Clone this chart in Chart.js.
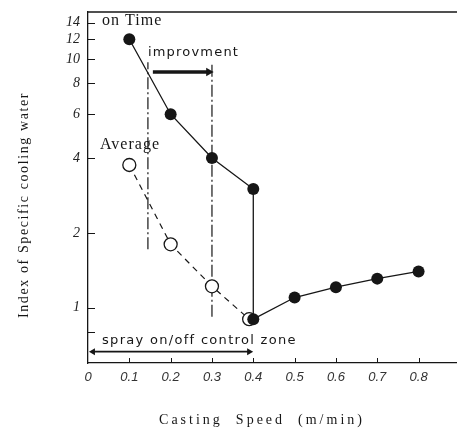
<!DOCTYPE html>
<html>
<head>
<meta charset="utf-8">
<script src="https://cdn.jsdelivr.net/npm/chart.js@4"></script>
<style>
    html, body { margin: 0; padding: 0; background: #fff; overflow: hidden; }
    #coolingChart { display: block; }
</style>
</head>
<body>
<canvas id="coolingChart" width="457" height="429"></canvas>
<script>
// data
const onTimeSpeed = [0.1, 0.2, 0.3, 0.4, 0.4, 0.5, 0.6, 0.7, 0.8];
const onTimeIndex = [12, 6, 4, 3.0, 0.9, 1.1, 1.21, 1.31, 1.4];
const averageSpeed = [0.1, 0.2, 0.3, 0.39];
const averageIndex = [3.75, 1.8, 1.22, 0.9];

// dash-dot guide lines (speed, low, high)
const guideSpeed = [0.145, 0.3];
const guideLow = [1.72, 0.92];
const guideHigh = [9.7, 9.7];

// improvement arrow and spray zone arrow
const improveSpeed = [0.157, 0.292];
const improveIndex = [8.87, 8.87];
const sprayZoneSpeed = [0.012, 0.39];
const sprayZoneIndex = [0.666, 0.666];

const xTickValues = [0, 0.1, 0.2, 0.3, 0.4, 0.5, 0.6, 0.7, 0.8];
const xTickLabels = ["0", "0.1", "0.2", "0.3", "0.4", "0.5", "0.6", "0.7", "0.8"];
const yTickValues = [0.8, 1, 2, 4, 6, 8, 10, 12, 14];
const yTickLabels = ["", "1", "2", "4", "6", "8", "10", "12", "14"];

const ink = "#161616";

function points(xs, ys) {
    return xs.map((x, i) => ({ x: x, y: ys[i] }));
}

// ✅ draws frame top, inward ticks, notes and axis titles
const decorPlugin = {
    id: "decor",
    afterDraw(chart) {
        const ctx = chart.ctx;
        const area = chart.chartArea;
        const xs = chart.scales.x;
        const ys = chart.scales.y;

        ctx.save();
        ctx.strokeStyle = ink;
        ctx.lineWidth = 1.3;
        ctx.beginPath();
        ctx.moveTo(area.left, area.top);
        ctx.lineTo(area.right, area.top);
        ctx.stroke();

        ctx.lineWidth = 1;
        yTickValues.forEach(v => {
            const py = Math.round(ys.getPixelForValue(v)) + 0.5;
            ctx.beginPath();
            ctx.moveTo(area.left, py);
            ctx.lineTo(area.left + 7, py);
            ctx.stroke();
        });
        xTickValues.slice(1).forEach(v => {
            const px = Math.round(xs.getPixelForValue(v)) + 0.5;
            ctx.beginPath();
            ctx.moveTo(px, area.bottom);
            ctx.lineTo(px, area.bottom - 5);
            ctx.stroke();
        });

        ctx.fillStyle = ink;
        ctx.textBaseline = "middle";
        ctx.textAlign = "left";
        const notes = [
            { text: "on Time", x: 0.034, y: 14.3, font: "16px 'Liberation Serif'", sp: "1px" },
            { text: "improvment", x: 0.145, y: 10.6, font: "13px 'DejaVu Sans'", sp: "1.2px" },
            { text: "Average", x: 0.029, y: 4.52, font: "16px 'Liberation Serif'", sp: "1px" },
            { text: "spray on/off control zone", x: 0.034, y: 0.737, font: "13px 'DejaVu Sans'", sp: "1.3px" },
        ];
        notes.forEach(n => {
            ctx.font = n.font;
            ctx.letterSpacing = n.sp;
            ctx.fillText(n.text, xs.getPixelForValue(n.x), ys.getPixelForValue(n.y));
        });

        ctx.textAlign = "center";
        ctx.font = "14px 'Liberation Serif'";
        ctx.letterSpacing = "3px";
        ctx.fillText("Casting  Speed  (m/min)", 262, 420);

        ctx.letterSpacing = "1.6px";
        ctx.translate(24, 205);
        ctx.rotate(-Math.PI / 2);
        ctx.fillText("Index of Specific cooling water", 0, 0);
        ctx.restore();
    }
};

const ctx = document.getElementById("coolingChart").getContext("2d");

window.coolingChartInstance = new Chart(ctx, {
    type: "line",
    data: {
        datasets: [
            {
                label: "on Time",
                data: points(onTimeSpeed, onTimeIndex),
                borderColor: ink,
                borderWidth: 1.3,
                pointRadius: 6,
                pointBackgroundColor: ink,
                pointBorderWidth: 0,
                tension: 0,
            },
            {
                label: "Average",
                data: points(averageSpeed, averageIndex),
                borderColor: ink,
                borderWidth: 1.2,
                borderDash: [6, 5],
                pointRadius: 6.5,
                pointBackgroundColor: "#fff",
                pointBorderColor: ink,
                pointBorderWidth: 1.3,
                tension: 0,
            },
            {
                label: "guide 1",
                data: points([guideSpeed[0], guideSpeed[0]], [guideLow[0], guideHigh[0]]),
                borderColor: ink,
                borderWidth: 1.2,
                borderDash: [12, 3, 2, 3],
                pointRadius: 0,
            },
            {
                label: "guide 2",
                data: points([guideSpeed[1], guideSpeed[1]], [guideLow[1], guideHigh[1]]),
                borderColor: ink,
                borderWidth: 1.2,
                borderDash: [12, 3, 2, 3],
                pointRadius: 0,
            },
            {
                label: "improvement",
                data: points(improveSpeed, improveIndex),
                borderColor: ink,
                borderWidth: 3.5,
                pointRadius: [0, 5],
                pointStyle: "triangle",
                pointRotation: [0, 90],
                pointBackgroundColor: ink,
                pointBorderWidth: 0,
            },
            {
                label: "spray zone",
                data: points(sprayZoneSpeed, sprayZoneIndex),
                borderColor: ink,
                borderWidth: 1.8,
                pointRadius: 4,
                pointStyle: "triangle",
                pointRotation: [-90, 90],
                pointBackgroundColor: ink,
                pointBorderWidth: 0,
            },
        ],
    },
    options: {
        responsive: false,
        animation: false,
        layout: { autoPadding: false, padding: { top: 12, left: 0, right: 0, bottom: 0 } },
        plugins: {
            legend: { display: false },
            tooltip: { enabled: false },
        },
        scales: {
            x: {
                type: "linear",
                min: 0,
                max: 0.893,
                afterBuildTicks: s => { s.ticks = xTickValues.map(v => ({ value: v })); },
                afterFit: s => { s.height = 66; s.paddingRight = 0; s.paddingLeft = 0; },
                grid: { display: false, drawTicks: false },
                border: { display: true, color: ink, width: 1.3 },
                ticks: {
                    autoSkip: false,
                    maxRotation: 0,
                    padding: 7,
                    color: "#333",
                    font: { family: "'Liberation Sans'", size: 13, style: "italic" },
                    callback: (v, i) => xTickLabels[i],
                },
            },
            y: {
                type: "logarithmic",
                min: 0.601,
                max: 15.45,
                afterBuildTicks: s => { s.ticks = yTickValues.map(v => ({ value: v })); },
                afterFit: s => { s.width = 88; s.paddingTop = 0; s.paddingBottom = 0; },
                grid: { display: false, drawTicks: false },
                border: { display: true, color: ink, width: 1.3 },
                ticks: {
                    autoSkip: false,
                    padding: 8,
                    color: "#222",
                    font: { family: "'Liberation Serif'", size: 14, style: "italic" },
                    callback: (v, i) => yTickLabels[i],
                },
            },
        },
    },
    plugins: [decorPlugin],
});
</script>
</body>
</html>
